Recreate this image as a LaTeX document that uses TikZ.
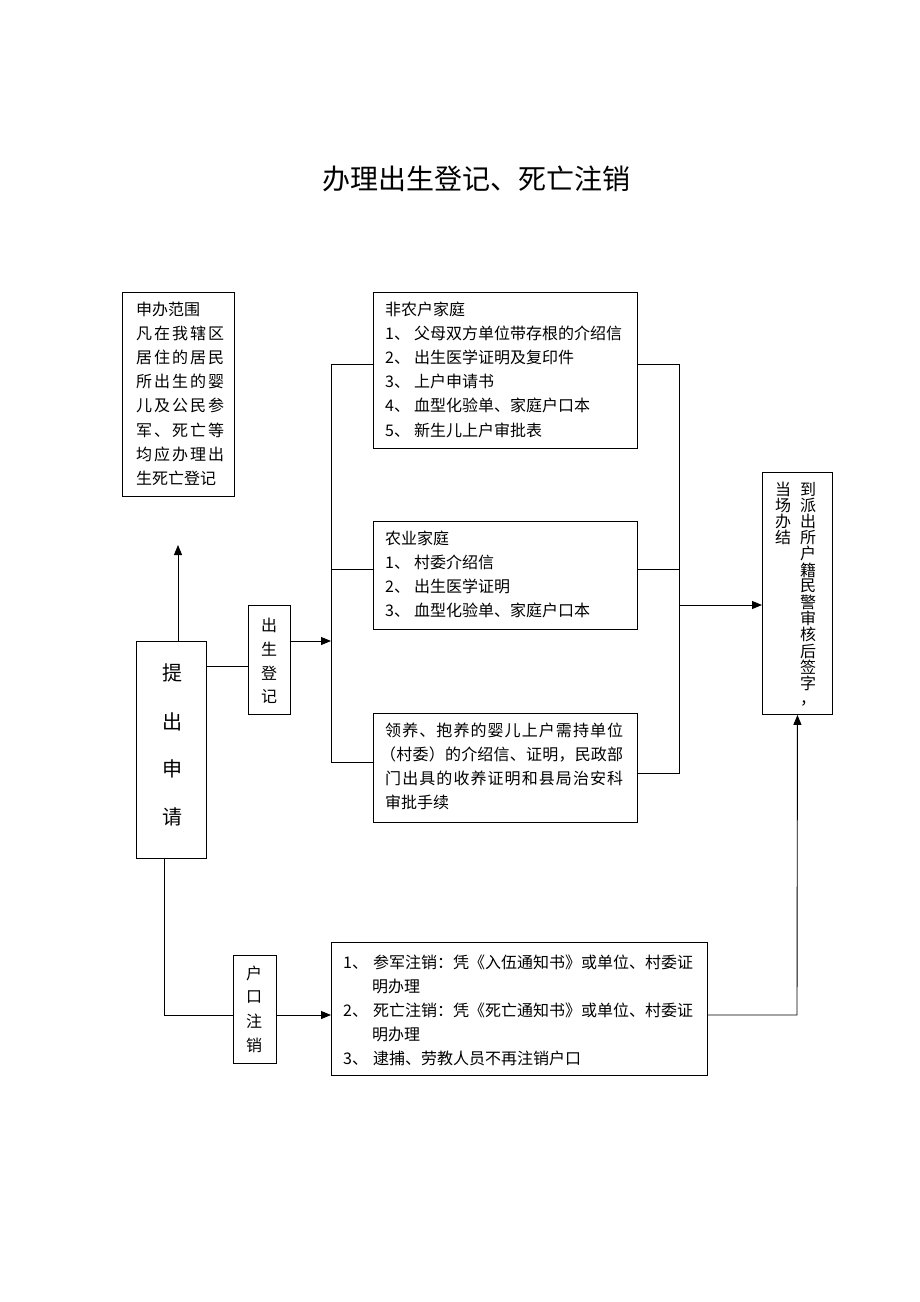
\documentclass[tikz,border=0pt]{standalone}
\usepackage{fontspec}
\setmainfont{Noto Sans CJK SC}
\usetikzlibrary{arrows.meta}
\makeatletter
\newcommand\spreadtext[2]{\makebox[#1][s]{\@tfor\sp@ch:=#2\do{\sp@ch\hfil}\unskip}}
\makeatother
\tikzset{
  box/.style={draw, line width=0.9pt, inner sep=0pt, anchor=north west},
  txt/.style={inner sep=0pt, anchor=west, font=\fontsize{16}{16}\selectfont, text height=13.3pt, text depth=1.8pt},
  vch/.style={inner sep=0pt, font=\fontsize{16}{16}\selectfont},
  big/.style={inner sep=0pt, font=\fontsize{20}{20}\selectfont},
  conn/.style={line width=0.9pt},
  arr/.style={line width=0.9pt, -{Triangle[length=10pt,width=8pt]}},
}
\begin{document}
\begin{tikzpicture}[x=1pt,y=-1pt]
\fill[white] (0,0) rectangle (920,1302);
\useasboundingbox (0,0) rectangle (920,1302);

% title
\node[inner sep=0pt, font=\fontsize{28}{28}\selectfont] (title) at (476,179) {办理出生登记、死亡注销};

% boxes
\node[box, minimum width=112pt, minimum height=204pt] (scope) at (122,292) {};
\node[box, minimum width=70pt, minimum height=217pt] (apply) at (136,641) {};
\node[box, minimum width=42pt, minimum height=109pt] (birth) at (248,605) {};
\node[box, minimum width=264pt, minimum height=156pt] (b1) at (373,292) {};
\node[box, minimum width=264pt, minimum height=108pt] (b2) at (373,521) {};
\node[box, minimum width=264pt, minimum height=109pt] (b3) at (373,713) {};
\node[box, minimum width=70pt, minimum height=242pt] (final) at (762,472) {};
\node[box, minimum width=43pt, minimum height=108pt] (cancel) at (233,955) {};
\node[box, minimum width=376pt, minimum height=133pt] (b4) at (331,942) {};

% scope text
\node[txt] (s1) at (136,310) {申办范围};
\node[txt] (s2) at (136,334) {\spreadtext{88pt}{凡在我辖区}};
\node[txt] (s3) at (136,358) {\spreadtext{88pt}{居住的居民}};
\node[txt] (s4) at (136,382) {\spreadtext{88pt}{所出生的婴}};
\node[txt] (s5) at (136,406) {\spreadtext{88pt}{儿及公民参}};
\node[txt] (s6) at (136,431) {\spreadtext{88pt}{军、死亡等}};
\node[txt] (s7) at (136,455) {\spreadtext{88pt}{均应办理出}};
\node[txt] (s8) at (136,479) {生死亡登记};

% apply text
\node[big] (a1) at (172,673) {提};
\node[big] (a2) at (172,722) {出};
\node[big] (a3) at (172,769) {申};
\node[big] (a4) at (172,817) {请};

% birth text
\node[vch] (bt1) at (269,625) {出};
\node[vch] (bt2) at (269,649) {生};
\node[vch] (bt3) at (269,673) {登};
\node[vch] (bt4) at (269,696) {记};

% cancel text
\node[vch] (ct1) at (254,973) {户};
\node[vch] (ct2) at (254,997) {口};
\node[vch] (ct3) at (254,1021) {注};
\node[vch] (ct4) at (254,1045) {销};

% box 1
\node[txt] (p1) at (385,310) {非农户家庭};
\node[txt] (p2) at (385,334) {1、\hspace{4pt}父母双方单位带存根的介绍信};
\node[txt] (p3) at (385,358) {2、\hspace{4pt}出生医学证明及复印件};
\node[txt] (p4) at (385,382) {3、\hspace{4pt}上户申请书};
\node[txt] (p5) at (385,406) {4、\hspace{4pt}血型化验单、家庭户口本};
\node[txt] (p6) at (385,431) {5、\hspace{4pt}新生儿上户审批表};

% box 2
\node[txt] (q1) at (385,539) {农业家庭};
\node[txt] (q2) at (385,563) {1、\hspace{4pt}村委介绍信};
\node[txt] (q3) at (385,587) {2、\hspace{4pt}出生医学证明};
\node[txt] (q4) at (385,611) {3、\hspace{4pt}血型化验单、家庭户口本};

% box 3
\node[txt] (r1) at (385,731) {\spreadtext{238pt}{领养、抱养的婴儿上户需持单位}};
\node[txt] (r2) at (380,755) {\spreadtext{243pt}{（村委）的介绍信、证明，民政部}};
\node[txt] (r3) at (385,779) {\spreadtext{238pt}{门出具的收养证明和县局治安科}};
\node[txt] (r4) at (385,803) {审批手续};

% box 4
\node[txt] (t1) at (343,963) {1、\hspace{5pt}参军注销：凭《入伍通知书》或单位、村委证};
\node[txt] (t2) at (372,987) {明办理};
\node[txt] (t3) at (343,1011) {2、\hspace{5pt}死亡注销：凭《死亡通知书》或单位、村委证};
\node[txt] (t4) at (372,1035) {明办理};
\node[txt] (t5) at (343,1059) {3、\hspace{5pt}逮捕、劳教人员不再注销户口};

% final vertical text
\foreach \c [count=\i] in {到,派,出,所,户,籍,民,警,审,核,后,签,字}
  \node[vch] (fa\i) at (808,{489+16.2*(\i-1)}) {\c};
\node[vch] (fcomma) at (808,703) {，};
\foreach \c [count=\i] in {当,场,办,结}
  \node[vch] (fb\i) at (783,{489+16.2*(\i-1)}) {\c};

% connectors
\coordinate (upend) at (178,545);
\draw[arr] (apply.north -| upend) -- (upend);
\draw[conn] (apply.east |- 0,666) -- (birth.west |- 0,666);
\coordinate (lb) at (331,641);
\draw[arr] (birth.east |- lb) -- (lb);
\draw[conn] (b1.west |- 0,364) -| (331,762) -- (b3.west |- 0,762);
\draw[conn] (331,569) -- (b2.west |- 0,569);
\draw[conn] (b1.east |- 0,364) -| (679,773) -- (b3.east |- 0,773);
\draw[conn] (b2.east |- 0,569) -- (679,569);
\coordinate (rb) at (679,605);
\draw[arr] (rb) -- (final.west |- rb);
\coordinate (lowl) at (164,1015);
\draw[conn] (apply.south -| lowl) -- (lowl) -- (cancel.west |- lowl);
\draw[arr] (cancel.east |- lowl) -- (b4.west |- lowl);
\coordinate (lowr) at (797,1015);
\draw[arr] (b4.east |- lowr) -- (lowr) -- (final.south);
\end{tikzpicture}
\end{document}
